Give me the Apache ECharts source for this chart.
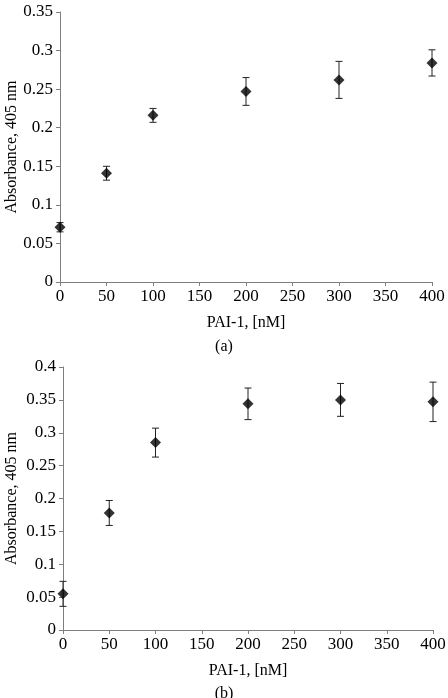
<!DOCTYPE html>
<html>
<head>
<meta charset="utf-8">
<script src="https://cdn.jsdelivr.net/npm/echarts@6/dist/echarts.min.js"></script>
<style>
html, body { margin: 0; padding: 0; background: #fff; }
#chart { width: 448px; height: 698px; }
</style>
</head>
<body>
<div id="chart"></div>
<script>
// PAI-1 concentration, nM
var concA = [0, 50, 100, 200, 300, 400];
var concB = [0, 50, 100, 200, 300, 400];

// panel (a): mean absorbance and error
var absA = [0.071, 0.141, 0.216, 0.247, 0.262, 0.284];
var errA = [0.006, 0.009, 0.009, 0.018, 0.024, 0.017];

// panel (b)
var absB = [0.055, 0.178, 0.285, 0.344, 0.350, 0.347];
var errB = [0.019, 0.019, 0.022, 0.024, 0.025, 0.030];

var FONT = '"Liberation Serif", "Times New Roman", serif';
var AXIS_COLOR = '#7f7f7f';

function points(xs, ys) {
    var out = [];
    for (var i = 0; i < xs.length; i++) out.push([xs[i], ys[i]]);
    return out;
}

function bars(xs, ys, es) {
    var out = [];
    for (var i = 0; i < xs.length; i++) out.push([xs[i], ys[i] - es[i], ys[i] + es[i]]);
    return out;
}

function renderErr(params, api) {
    var lo = api.coord([api.value(0), api.value(1)]);
    var hi = api.coord([api.value(0), api.value(2)]);
    var w = 3.5;
    var st = { stroke: '#222', lineWidth: 1 };
    return {
        type: 'group',
        children: [
            { type: 'line', shape: { x1: lo[0], y1: lo[1], x2: hi[0], y2: hi[1] }, style: st },
            { type: 'line', shape: { x1: lo[0] - w, y1: lo[1], x2: lo[0] + w, y2: lo[1] }, style: st },
            { type: 'line', shape: { x1: hi[0] - w, y1: hi[1], x2: hi[0] + w, y2: hi[1] }, style: st }
        ]
    };
}

function xAxisCfg(idx) {
    return {
        type: 'value', gridIndex: idx, min: 0, max: 400, interval: 50,
        name: 'PAI-1, [nM]', nameLocation: 'middle', nameGap: 33, nameMoveOverlap: false,
        nameTextStyle: { fontFamily: FONT, fontSize: 16, color: '#000' },
        axisLine: { show: true, lineStyle: { color: AXIS_COLOR } },
        axisTick: { show: true, length: 4, lineStyle: { color: AXIS_COLOR } },
        axisLabel: { fontFamily: FONT, fontSize: 17, color: '#000', margin: 6 },
        splitLine: { show: false }
    };
}

function yAxisCfg(idx, max, gap) {
    return {
        type: 'value', gridIndex: idx, min: 0, max: max, interval: 0.05,
        name: 'Absorbance, 405 nm', nameLocation: 'middle', nameGap: gap, nameMoveOverlap: false,
        nameTextStyle: { fontFamily: FONT, fontSize: 16, color: '#000' },
        axisLine: { show: true, lineStyle: { color: AXIS_COLOR } },
        axisTick: { show: true, length: 4, lineStyle: { color: AXIS_COLOR } },
        axisLabel: { fontFamily: FONT, fontSize: 17, color: '#000', margin: 7 },
        splitLine: { show: false }
    };
}

var option = {
    animation: false,
    backgroundColor: '#fff',
    title: [
        { text: '(a)', left: 'center', top: 339, textStyle: { fontFamily: FONT, fontSize: 16, fontWeight: 'normal', color: '#000' }, padding: 0 },
        { text: '(b)', left: 'center', top: 686, textStyle: { fontFamily: FONT, fontSize: 16, fontWeight: 'normal', color: '#000' }, padding: 0 }
    ],
    grid: [
        { left: 60, top: 12, width: 372, height: 270, containLabel: false, outerBoundsMode: 'none' },
        { left: 63, top: 367, width: 370, height: 263, containLabel: false, outerBoundsMode: 'none' }
    ],
    xAxis: [xAxisCfg(0), xAxisCfg(1)],
    yAxis: [yAxisCfg(0, 0.35, 40), yAxisCfg(1, 0.4, 43)],
    series: [
        {
            type: 'custom', xAxisIndex: 0, yAxisIndex: 0,
            renderItem: renderErr, data: bars(concA, absA, errA), z: 1
        },
        {
            type: 'scatter', xAxisIndex: 0, yAxisIndex: 0,
            symbol: 'diamond', symbolSize: 11,
            itemStyle: { color: '#000' },
            data: points(concA, absA), z: 2
        },
        {
            type: 'custom', xAxisIndex: 1, yAxisIndex: 1,
            renderItem: renderErr, data: bars(concB, absB, errB), z: 1
        },
        {
            type: 'scatter', xAxisIndex: 1, yAxisIndex: 1,
            symbol: 'diamond', symbolSize: 11,
            itemStyle: { color: '#000' },
            data: points(concB, absB), z: 2
        }
    ]
};

var myChart = echarts.init(document.getElementById('chart'));
myChart.setOption(option);
</script>
</body>
</html>
